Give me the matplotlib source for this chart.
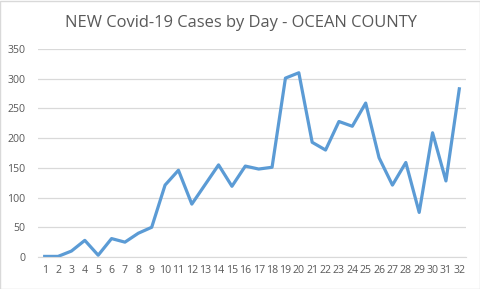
import matplotlib
matplotlib.use("Agg")
import matplotlib.pyplot as plt
from matplotlib.patches import Rectangle

days = list(range(1, 33))
cases = [1, 1, 10, 28, 3, 31, 25, 40, 50, 121, 146, 89, 122, 155, 119, 153,
         148, 151, 301, 310, 193, 180, 228, 220, 259, 167, 121, 159, 75, 209, 128, 283]
yticks = [0, 50, 100, 150, 200, 250, 300, 350]
title = "NEW Covid-19 Cases by Day - OCEAN COUNTY"

plt.rcParams['font.family'] = ['Open Sans', 'DejaVu Sans']
fig = plt.figure(figsize=(4.81, 2.89), dpi=100)
fig.patches.append(Rectangle((0.001, 0.001), 0.997, 0.997, transform=fig.transFigure,
                             fill=False, edgecolor='#D9D9D9', linewidth=1))
ax = fig.add_axes([38/481, 1-257/289, 428/481, 208/289])
ax.plot(days, cases, color='#5B9BD5', linewidth=2.3, solid_joinstyle='round')
ax.set_xlim(0.5, 32.5)
ax.set_ylim(0, 350)
ax.set_yticks(yticks)
ax.set_xticks(days)
ax.set_xticklabels([str(d) for d in days])
ax.grid(axis='y', color='#D9D9D9', linewidth=0.9)
ax.set_axisbelow(True)
for s in ['left', 'right', 'top']:
    ax.spines[s].set_visible(False)
ax.spines['bottom'].set_color('#D9D9D9')
ax.tick_params(axis='both', length=0, colors='#595959', labelsize=7.6)
ax.tick_params(axis='x', pad=6)
ax.tick_params(axis='y', pad=9)
fig.text(0.5, 1-23/289, title, ha='center', va='center', fontsize=11.9, color='#595959')
fig.savefig("out.png", dpi=100)
